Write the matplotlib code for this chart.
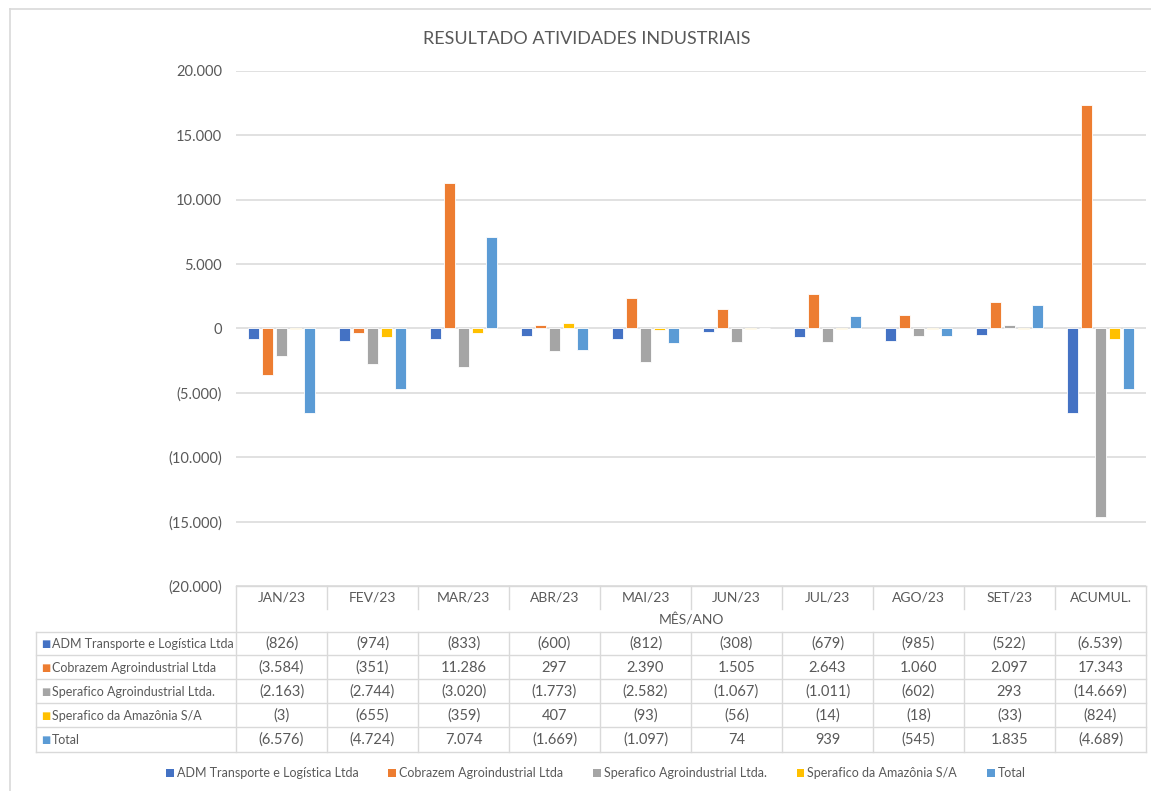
import numpy as np
import matplotlib as mpl
import matplotlib.pyplot as plt
from matplotlib.patches import Patch
from matplotlib.lines import Line2D
from matplotlib.transforms import blended_transform_factory
from matplotlib import ticker

plt.rcParams['font.family'] = ['Lato', 'DejaVu Sans']

months = ['JAN/23', 'FEV/23', 'MAR/23', 'ABR/23', 'MAI/23', 'JUN/23',
          'JUL/23', 'AGO/23', 'SET/23', 'ACUMUL.']
series = ['ADM Transporte e Logística Ltda', 'Cobrazem Agroindustrial Ltda',
          'Sperafico Agroindustrial Ltda.', 'Sperafico da Amazônia S/A', 'Total']
adm = [-826, -974, -833, -600, -812, -308, -679, -985, -522, -6539]
cobrazem = [-3584, -351, 11286, 297, 2390, 1505, 2643, 1060, 2097, 17343]
sperafico = [-2163, -2744, -3020, -1773, -2582, -1067, -1011, -602, 293, -14669]
amazonia = [-3, -655, -359, 407, -93, -56, -14, -18, -33, -824]
total = [-6576, -4724, 7074, -1669, -1097, 74, 939, -545, 1835, -4689]
values = [adm, cobrazem, sperafico, amazonia, total]
colors = ['#4472C4', '#ED7D31', '#A5A5A5', '#FFC000', '#5B9BD5']

W, H = 1151, 791
txt = '#595959'
grid = '#d9d9d9'


def fy(py):
    return 1 - py / H


def fmt(v):
    s = '{:,}'.format(abs(int(v))).replace(',', '.')
    return '(' + s + ')' if v < 0 else s


fig = plt.figure(figsize=(W / 100, H / 100), dpi=100)
ax = fig.add_axes([236 / W, fy(586), 910 / W, 515 / H])

x = np.arange(len(months))
step = 0.154
for i, (vals, c, name) in enumerate(zip(values, colors, series)):
    ax.bar(x + (i - 2) * step, vals, width=0.125, color=c, edgecolor='white',
           linewidth=0.6, label=name, zorder=3)

ax.set_xlim(-0.5, len(months) - 0.5)
ax.set_ylim(-20000, 20000)
ax.yaxis.set_major_locator(ticker.MultipleLocator(5000))
ax.yaxis.set_major_formatter(ticker.FuncFormatter(lambda v, p: fmt(v)))
ax.grid(axis='y', color=grid, linewidth=1.1, zorder=0)
ax.set_xticks([])
for s in ax.spines.values():
    s.set_visible(False)
ax.tick_params(axis='y', length=0, pad=10, labelsize=10.5, labelcolor=txt)

fig.text(587 / W, fy(39), 'RESULTADO ATIVIDADES INDUSTRIAIS', ha='center',
         va='center', fontsize=13, color=txt)

# data table under the axis
bt = blended_transform_factory(ax.transData, fig.transFigure)
ft = fig.transFigure
lw = 1.0


def hline(py, x0, x1):
    fig.add_artist(Line2D([x0 / W, x1 / W], [fy(py), fy(py)], transform=ft,
                          color=grid, lw=lw))


def vline_data(xd, y0, y1):
    fig.add_artist(Line2D([xd, xd], [fy(y0), fy(y1)], transform=bt,
                          color=grid, lw=lw))


hline(586, 236, 1146)
row_lines = [632, 655, 679, 703, 727, 752]
for py in row_lines:
    hline(py, 36, 1146)
fig.add_artist(Line2D([36 / W, 36 / W], [fy(632), fy(752)], transform=ft,
                      color=grid, lw=lw))
vline_data(-0.5, 586, 752)
vline_data(len(months) - 0.5, 586, 752)
for b in np.arange(0.5, len(months) - 1, 1.0):
    vline_data(b, 586, 609)
    vline_data(b, 632, 752)

for i, m in enumerate(months):
    fig.text(i, fy(598), m, transform=bt, ha='center', va='center',
             fontsize=10, color=txt)
fig.text((len(months) - 1) / 2, fy(620), 'MÊS/ANO', transform=bt,
         ha='center', va='center', fontsize=10, color=txt)

for r, (vals, c, name) in enumerate(zip(values, colors, series)):
    yc = fy((row_lines[r] + row_lines[r + 1]) / 2 + 0.5)
    fig.text(41 / W, yc, '\u25A0', transform=ft, ha='left', va='center',
             fontsize=7, color=c, family='DejaVu Sans')
    fig.text(52 / W, yc, name, transform=ft, ha='left', va='center',
             fontsize=9, color=txt)
    for i, v in enumerate(vals):
        fig.text(i, yc, fmt(v), transform=bt, ha='center', va='center',
                 fontsize=10.5, color=txt)

handles = [Patch(facecolor=c, label=n) for c, n in zip(colors, series)]
fig.legend(handles=handles, loc='center', bbox_to_anchor=(596 / W, fy(773)),
           ncol=5, frameon=False, fontsize=9, handlelength=0.6,
           handleheight=0.6, handletextpad=0.25, columnspacing=2.4,
           labelcolor=txt)

# outer chart frame
fig.add_artist(Line2D([10 / W, 1], [fy(9), fy(9)], transform=ft, color=grid, lw=1.2))
fig.add_artist(Line2D([10 / W, 10 / W], [fy(9), 0], transform=ft, color=grid, lw=1.2))

plt.savefig('out.png', dpi=100)
